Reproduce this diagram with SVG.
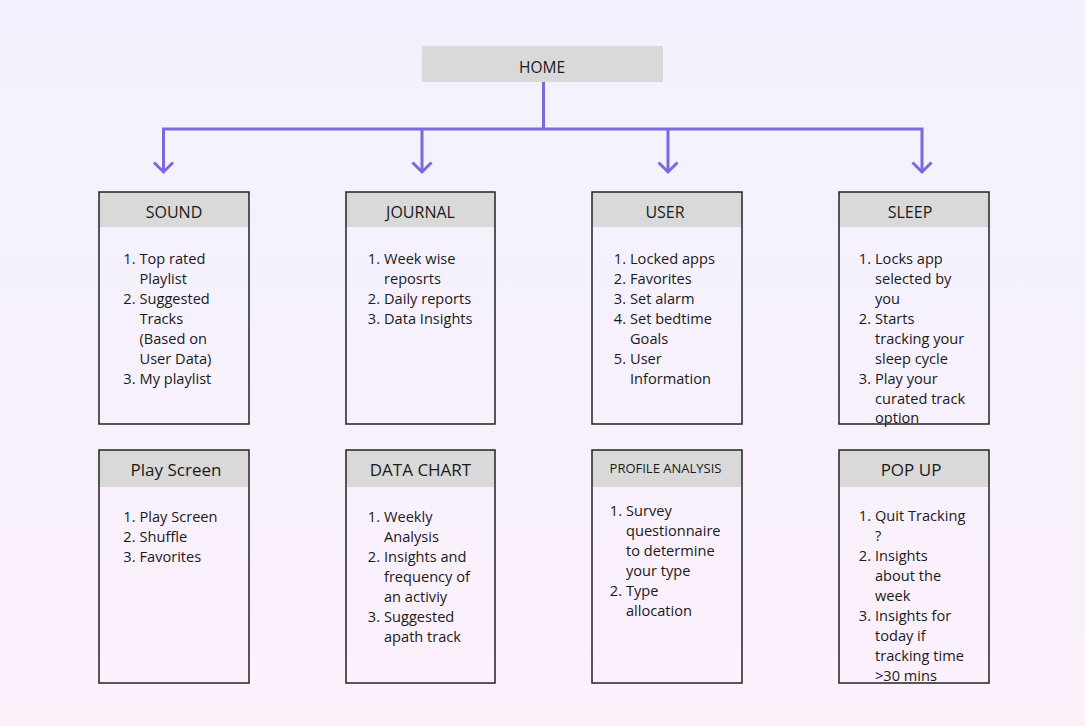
<svg xmlns="http://www.w3.org/2000/svg" width="1085" height="726" viewBox="0 0 1085 726">
<defs>
<linearGradient id="bg" x1="0" y1="0" x2="0" y2="1">
<stop offset="0" stop-color="#f1f2fd"/>
<stop offset="1" stop-color="#fcf0fb"/>
</linearGradient>
<marker id="chev" viewBox="-12 -12 24 24" markerWidth="24" markerHeight="24" markerUnits="userSpaceOnUse" refX="0" refY="0" orient="auto-start-reverse">
<path d="M-9.5,-9.5 L0,0 L-9.5,9.5" fill="none" stroke="#7f66e0" stroke-width="3" stroke-linejoin="miter"/>
</marker>
<style>
.hdr{fill:#d9d9d9}
.frame{fill:none;stroke:#222222;stroke-width:1.5}
.t{font-family:"Open Sans","Liberation Sans",sans-serif;fill:#1a1a1a;text-anchor:middle}
.li{font-family:"Open Sans","Liberation Sans",sans-serif;font-size:14.6px;fill:#1a1a1a}
.num{text-anchor:end}
.conn{fill:none;stroke:#7f66e0;stroke-width:3}
</style>
</defs>
<rect x="0" y="0" width="1085" height="726" fill="url(#bg)"/>

<g id="connectors">
<path class="conn" d="M543.5,82 V129"/>
<path class="conn" d="M163.5,172 V129 H922 V172" marker-start="url(#chev)" marker-end="url(#chev)"/>
<path class="conn" d="M422,129 V172" marker-end="url(#chev)"/>
<path class="conn" d="M668,129 V172" marker-end="url(#chev)"/>
</g>

<g id="home">
<rect class="hdr" x="422" y="46" width="241" height="36"/>
<text class="t" x="542" y="72.5" font-size="15.5">HOME</text>
</g>

<g id="sound">
<rect class="hdr" x="99" y="192" width="150" height="35"/>
<rect class="frame" x="99" y="192" width="150" height="232"/>
<text class="t" x="174" y="217.5" font-size="16">SOUND</text>
<g class="li">
<text class="num" x="135.5" y="264">1.</text><text x="139.5" y="264">Top rated</text>
<text x="139.5" y="284">Playlist</text>
<text class="num" x="135.5" y="304">2.</text><text x="139.5" y="304">Suggested</text>
<text x="139.5" y="324">Tracks</text>
<text x="139.5" y="344">(Based on</text>
<text x="139.5" y="364">User Data)</text>
<text class="num" x="135.5" y="384">3.</text><text x="139.5" y="384">My playlist</text>
</g>
</g>

<g id="journal">
<rect class="hdr" x="346" y="192" width="149" height="35"/>
<rect class="frame" x="346" y="192" width="149" height="232"/>
<text class="t" x="420.5" y="217.5" font-size="16">JOURNAL</text>
<g class="li">
<text class="num" x="380" y="264">1.</text><text x="384" y="264">Week wise</text>
<text x="384" y="284">reposrts</text>
<text class="num" x="380" y="304">2.</text><text x="384" y="304">Daily reports</text>
<text class="num" x="380" y="324">3.</text><text x="384" y="324">Data Insights</text>
</g>
</g>

<g id="user">
<rect class="hdr" x="592" y="192" width="150" height="35"/>
<rect class="frame" x="592" y="192" width="150" height="232"/>
<text class="t" x="665" y="217.5" font-size="16">USER</text>
<g class="li">
<text class="num" x="626" y="264">1.</text><text x="630" y="264">Locked apps</text>
<text class="num" x="626" y="284">2.</text><text x="630" y="284">Favorites</text>
<text class="num" x="626" y="304">3.</text><text x="630" y="304">Set alarm</text>
<text class="num" x="626" y="324">4.</text><text x="630" y="324">Set bedtime</text>
<text x="630" y="344">Goals</text>
<text class="num" x="626" y="364">5.</text><text x="630" y="364">User</text>
<text x="630" y="384">Information</text>
</g>
</g>

<g id="sleep">
<rect class="hdr" x="839" y="192" width="150" height="35"/>
<text class="t" x="910" y="217.5" font-size="16">SLEEP</text>
<g class="li">
<text class="num" x="871" y="264">1.</text><text x="875" y="264">Locks app</text>
<text x="875" y="284">selected by</text>
<text x="875" y="304">you</text>
<text class="num" x="871" y="324">2.</text><text x="875" y="324">Starts</text>
<text x="875" y="344">tracking your</text>
<text x="875" y="364">sleep cycle</text>
<text class="num" x="871" y="384">3.</text><text x="875" y="384">Play your</text>
<text x="875" y="404">curated track</text>
<text x="875" y="423">option</text>
</g>
<rect class="frame" x="839" y="192" width="150" height="232"/>
</g>

<g id="play-screen">
<rect class="hdr" x="99" y="450" width="150" height="37"/>
<rect class="frame" x="99" y="450" width="150" height="233"/>
<text class="t" x="176" y="476" font-size="17">Play Screen</text>
<g class="li">
<text class="num" x="135.5" y="522">1.</text><text x="139.5" y="522">Play Screen</text>
<text class="num" x="135.5" y="542">2.</text><text x="139.5" y="542">Shuffle</text>
<text class="num" x="135.5" y="562">3.</text><text x="139.5" y="562">Favorites</text>
</g>
</g>

<g id="data-chart">
<rect class="hdr" x="346" y="450" width="149" height="37"/>
<rect class="frame" x="346" y="450" width="149" height="233"/>
<text class="t" x="420.5" y="476" font-size="17">DATA CHART</text>
<g class="li">
<text class="num" x="380" y="522">1.</text><text x="384" y="522">Weekly</text>
<text x="384" y="542">Analysis</text>
<text class="num" x="380" y="562">2.</text><text x="384" y="562">Insights and</text>
<text x="384" y="582">frequency of</text>
<text x="384" y="602">an activiy</text>
<text class="num" x="380" y="622">3.</text><text x="384" y="622">Suggested</text>
<text x="384" y="642">apath track</text>
</g>
</g>

<g id="profile-analysis">
<rect class="hdr" x="592" y="450" width="150" height="37"/>
<rect class="frame" x="592" y="450" width="150" height="233"/>
<text class="t" x="665.5" y="473" font-size="13">PROFILE ANALYSIS</text>
<g class="li">
<text class="num" x="622" y="516">1.</text><text x="626" y="516">Survey</text>
<text x="626" y="536">questionnaire</text>
<text x="626" y="556">to determine</text>
<text x="626" y="576">your type</text>
<text class="num" x="622" y="596">2.</text><text x="626" y="596">Type</text>
<text x="626" y="616">allocation</text>
</g>
</g>

<g id="pop-up">
<rect class="hdr" x="839" y="450" width="150" height="37"/>
<text class="t" x="911" y="476" font-size="17">POP UP</text>
<g class="li">
<text class="num" x="871" y="521">1.</text><text x="875" y="521">Quit Tracking</text>
<text x="875" y="541">?</text>
<text class="num" x="871" y="561">2.</text><text x="875" y="561">Insights</text>
<text x="875" y="581">about the</text>
<text x="875" y="601">week</text>
<text class="num" x="871" y="621">3.</text><text x="875" y="621">Insights for</text>
<text x="875" y="641">today if</text>
<text x="875" y="661">tracking time</text>
<text x="875" y="681">&gt;30 mins</text>
</g>
<rect class="frame" x="839" y="450" width="150" height="233"/>
</g>
</svg>
